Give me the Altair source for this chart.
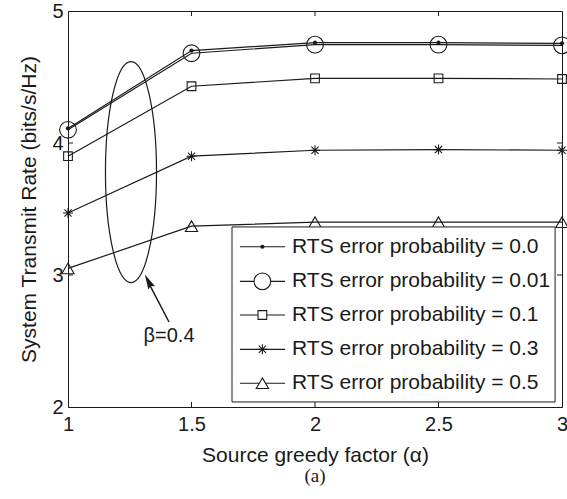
import altair as alt
import pandas as pd

# Source greedy factor (alpha) and system transmit rate for each RTS error probability
alpha = [1.0, 1.5, 2.0, 2.5, 3.0]
rate_p000 = [4.11, 4.70, 4.76, 4.76, 4.755]
rate_p001 = [4.10, 4.68, 4.745, 4.745, 4.74]
rate_p010 = [3.90, 4.43, 4.49, 4.49, 4.485]
rate_p030 = [3.47, 3.90, 3.945, 3.95, 3.945]
rate_p050 = [3.05, 3.37, 3.40, 3.40, 3.40]

series_labels = [
    "RTS error probability = 0.0",
    "RTS error probability = 0.01",
    "RTS error probability = 0.1",
    "RTS error probability = 0.3",
    "RTS error probability = 0.5",
]
x_ticks = [1, 1.5, 2, 2.5, 3]
y_ticks = [2, 3, 4, 5]
beta_label = "β=0.4"

FONT = "Liberation Sans"
INK = "#1a1a1a"
W, H = 494, 396

ASTERISK = "M -1 0 L 1 0 M 0 -1 L 0 1 M -0.72 -0.72 L 0.72 0.72 M -0.72 0.72 L 0.72 -0.72"
# marker style per series: (shape, size, filled)
styles = [
    ("circle", 18, True),
    ("circle", 280, False),
    ("square", 76, False),
    (ASTERISK, 100, False),
    ("triangle-up", 150, False),
]
rates = [rate_p000, rate_p001, rate_p010, rate_p030, rate_p050]

xs = alt.Scale(domain=[1, 3], nice=False, zero=False)
ys = alt.Scale(domain=[2, 5], nice=False, zero=False)

layers = []
for i, (vals, (shape, size, filled)) in enumerate(zip(rates, styles)):
    df = pd.DataFrame({"alpha": alpha, "rate": vals})
    base = alt.Chart(df)
    if i == 0:
        enc_x = alt.X("alpha:Q", scale=xs,
                      axis=alt.Axis(values=x_ticks, format="~g",
                                    title="Source greedy factor (α)",
                                    ticks=False, grid=False, labelFlush=False,
                                    labelPadding=7, titlePadding=10))
        enc_y = alt.Y("rate:Q", scale=ys,
                      axis=alt.Axis(values=y_ticks, format="~g",
                                    title="System Transmit Rate (bits/s/Hz)",
                                    ticks=False, grid=False, labelFlush=False,
                                    labelPadding=5, titlePadding=12))
    else:
        enc_x = alt.X("alpha:Q", scale=xs)
        enc_y = alt.Y("rate:Q", scale=ys)
    layers.append(base.mark_line(color=INK, strokeWidth=1.2).encode(x=enc_x, y=enc_y))
    layers.append(base.mark_point(shape=shape, size=size, filled=filled,
                                  color=INK, strokeWidth=1.1, opacity=1)
                  .encode(x="alpha:Q", y="rate:Q"))

# inward tick marks on all four sides
xt = pd.DataFrame({"v": [1.5, 2, 2.5]})
yt = pd.DataFrame({"v": [3, 4]})
tick_style = dict(color=INK, strokeWidth=1)
layers += [
    alt.Chart(xt).mark_rule(**tick_style).encode(x="v:Q", y=alt.value(H), y2=alt.value(H - 5)),
    alt.Chart(xt).mark_rule(**tick_style).encode(x="v:Q", y=alt.value(0), y2=alt.value(5)),
    alt.Chart(yt).mark_rule(**tick_style).encode(y="v:Q", x=alt.value(0), x2=alt.value(5)),
    alt.Chart(yt).mark_rule(**tick_style).encode(y="v:Q", x=alt.value(W), x2=alt.value(W - 5)),
]

# ellipse around the alpha=1..1.5 segment with an arrow and its label
ELLIPSE = "M -0.231 0 A 0.231 1 0 1 0 0.231 0 A 0.231 1 0 1 0 -0.231 0"
ell = pd.DataFrame({"x": [1.255], "y": [3.78]})
layers.append(alt.Chart(ell).mark_point(shape=ELLIPSE, size=221 ** 2, filled=False,
                                        color=INK, strokeWidth=1.2, opacity=1)
              .encode(x="x:Q", y="y:Q"))
arrow = pd.DataFrame({"x": [1.409], "y": [2.644], "x2": [1.318], "y2": [2.97]})
layers.append(alt.Chart(arrow).mark_rule(color=INK, strokeWidth=1.5)
              .encode(x="x:Q", y="y:Q", x2="x2:Q", y2="y2:Q"))
head = pd.DataFrame({"x": [1.325], "y": [2.953]})
layers.append(alt.Chart(head).mark_point(shape="M 0 -1 L 0.5 1 L 0 0.7 L -0.5 1 Z", size=225,
                                         filled=True, color=INK, opacity=1, angle=333)
              .encode(x="x:Q", y="y:Q"))
lab = pd.DataFrame({"x": [1.409], "y": [2.535], "t": [beta_label]})
layers.append(alt.Chart(lab).mark_text(font=FONT, fontSize=20, color=INK, baseline="middle")
              .encode(x="x:Q", y="y:Q", text="t:N"))

# legend box drawn inside the plot
box = pd.DataFrame({"x": [1.664], "x2": [2.972], "y": [3.364], "y2": [2.038]})
layers.append(alt.Chart(box).mark_rect(fill="white", stroke=INK, strokeWidth=1)
              .encode(x="x:Q", x2="x2:Q", y="y:Q", y2="y2:Q"))
row_y = [3.214, 2.952, 2.697, 2.437, 2.180]
for lbl, ry, (shape, size, filled) in zip(series_labels, row_y, styles):
    seg = pd.DataFrame({"x": [1.696], "x2": [1.879], "y": [ry]})
    layers.append(alt.Chart(seg).mark_rule(color=INK, strokeWidth=1.2)
                  .encode(x="x:Q", x2="x2:Q", y="y:Q"))
    mk = pd.DataFrame({"x": [1.787], "y": [ry]})
    layers.append(alt.Chart(mk).mark_point(shape=shape, size=size, filled=filled,
                                           color=INK, strokeWidth=1.1, opacity=1,
                                           fill="white" if not filled else INK)
                  .encode(x="x:Q", y="y:Q"))
    tx = pd.DataFrame({"x": [1.907], "y": [ry], "t": [lbl]})
    layers.append(alt.Chart(tx).mark_text(font=FONT, fontSize=21, color=INK,
                                          align="left", baseline="middle")
                  .encode(x="x:Q", y="y:Q", text="t:N"))

cap = pd.DataFrame({"t": ["(a)"]})
layers.append(alt.Chart(cap).mark_text(font="Liberation Serif", fontSize=19, color=INK,
                                       baseline="middle")
              .encode(x=alt.value(W / 2), y=alt.value(H + 69), text="t:N"))

chart = (
    alt.layer(*layers)
    .properties(width=W, height=H,
                autosize=alt.AutoSizeParams(type="none"),
                padding={"left": 68, "top": 11, "right": 5, "bottom": 92},
                background="white")
    .configure_view(stroke=INK, strokeWidth=1)
    .configure_axis(domainColor=INK, domainWidth=1, labelFont=FONT, titleFont=FONT,
                    labelFontSize=20, titleFontSize=21, labelColor=INK, titleColor=INK,
                    titleFontWeight="normal")
)

chart.save("out.html", embed_options={"renderer": "svg", "actions": False})
